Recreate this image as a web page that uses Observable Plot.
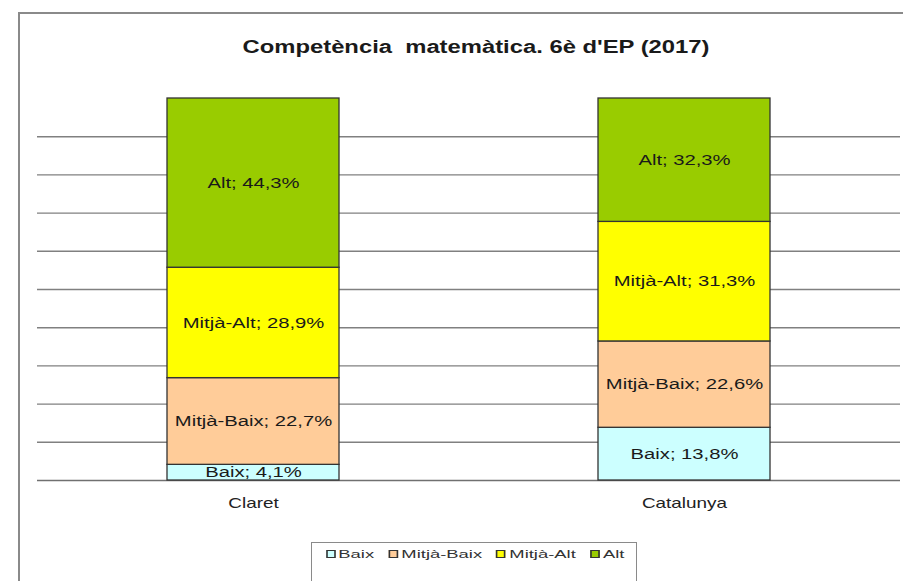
<!DOCTYPE html>
<html>
<head>
<meta charset="utf-8">
<script src="https://cdn.jsdelivr.net/npm/d3@7"></script>
<script src="https://cdn.jsdelivr.net/npm/@observablehq/plot@0.6"></script>
<style>
  html, body { margin: 0; padding: 0; background: #fff; }
  #wrap { position: relative; width: 903px; height: 581px; overflow: hidden; font-family: Arial, "Liberation Sans", sans-serif; }
  #frame { position: absolute; left: 18px; top: 12px; width: 1000px; height: 1000px; border-left: 2px solid #8a8a8a; border-top: 2px solid #8a8a8a; box-sizing: border-box; }
  #chart { position: absolute; left: 0; top: 0; }
  #title { position: absolute; left: 0; width: 952px; top: 37px; text-align: center; font-weight: bold; font-size: 17.5px; color: #1a1a1a; white-space: pre; transform: scaleX(1.36); transform-origin: 476px 0; }
  #legend { position: absolute; left: 311px; top: 542px; width: 326px; height: 40px; border: 1px solid #8a8a8a; box-sizing: border-box; background: #fff; }
  #legend .inner { position: absolute; left: 0; width: 326px; top: 5px; display: flex; align-items: center; justify-content: center; gap: 9px; font-size: 11.5px; color: #333; transform: scaleX(1.6); transform-origin: 163px 0; }
  #legend .item { display: flex; align-items: center; gap: 2px; }
  #legend .sw { width: 4px; height: 6px; border: 1px solid #333; }
</style>
</head>
<body>
<div id="wrap">
  <div id="frame"></div>
  <div id="chart"></div>
  <div id="title">Competència  matemàtica. 6è d'EP (2017)</div>
  <div id="legend"><div class="inner"></div></div>
</div>
<script>
const categories = ["Claret", "Catalunya"];
const levels = ["Baix", "Mitjà-Baix", "Mitjà-Alt", "Alt"];
const colors = ["#ccffff", "#ffcc99", "#ffff00", "#99cc00"];
const claretValues = [4.1, 22.7, 28.9, 44.3];
const catalunyaValues = [13.8, 22.6, 31.3, 32.3];
const gridTicks = [10, 20, 30, 40, 50, 60, 70, 80, 90];

const seriesValues = [claretValues, catalunyaValues];
const data = [];
categories.forEach((c, i) => levels.forEach((l, j) => data.push({cat: c, level: l, value: seriesValues[i][j]})));
const fmt = v => v.toFixed(1).replace(".", ",");

const stackOpts = {x: "cat", y: "value", z: "level", order: levels};

const chart = Plot.plot({
  width: 903,
  height: 581,
  marginTop: 98,
  marginBottom: 101,
  marginLeft: 37,
  marginRight: 3,
  style: {fontFamily: "Arial, 'Liberation Sans', sans-serif", background: "transparent", overflow: "visible"},
  x: {domain: categories, padding: 0.6, paddingOuter: 0.3, label: null},
  y: {domain: [0, 100], axis: null},
  color: {domain: levels, range: colors},
  marks: [
    Plot.ruleY(gridTicks, {stroke: "#808080", strokeWidth: 1.4}),
    Plot.ruleY([0], {stroke: "#707070", strokeWidth: 1.6}),
    Plot.barY(data, Plot.stackY({...stackOpts, fill: "level", stroke: "#333", strokeWidth: 1.3, inset: 0})),
    Plot.text(data, Plot.stackY({...stackOpts, text: d => `${d.level}; ${fmt(d.value)}%`, fill: "#1a1a1a", fontSize: 15})),
    Plot.axisX({tickSize: 0, tickPadding: 18, fontSize: 14, fill: "#222", label: null})
  ]
});
document.getElementById("chart").appendChild(chart);

// horizontal stretch of all chart texts (the reference is widened)
const SX = 1.35;
chart.querySelectorAll("text").forEach(t => {
  const b = t.getBBox();
  const cx = b.x + b.width / 2;
  const prev = t.getAttribute("transform") || "";
  t.setAttribute("transform", `${prev} translate(${cx},0) scale(${SX},1) translate(${-cx},0)`);
});

const inner = document.querySelector("#legend .inner");
levels.forEach((l, i) => {
  const it = document.createElement("div");
  it.className = "item";
  const sw = document.createElement("div");
  sw.className = "sw";
  sw.style.background = colors[i];
  const t = document.createElement("span");
  t.textContent = l;
  it.appendChild(sw); it.appendChild(t);
  inner.appendChild(it);
});
</script>
</body>
</html>
